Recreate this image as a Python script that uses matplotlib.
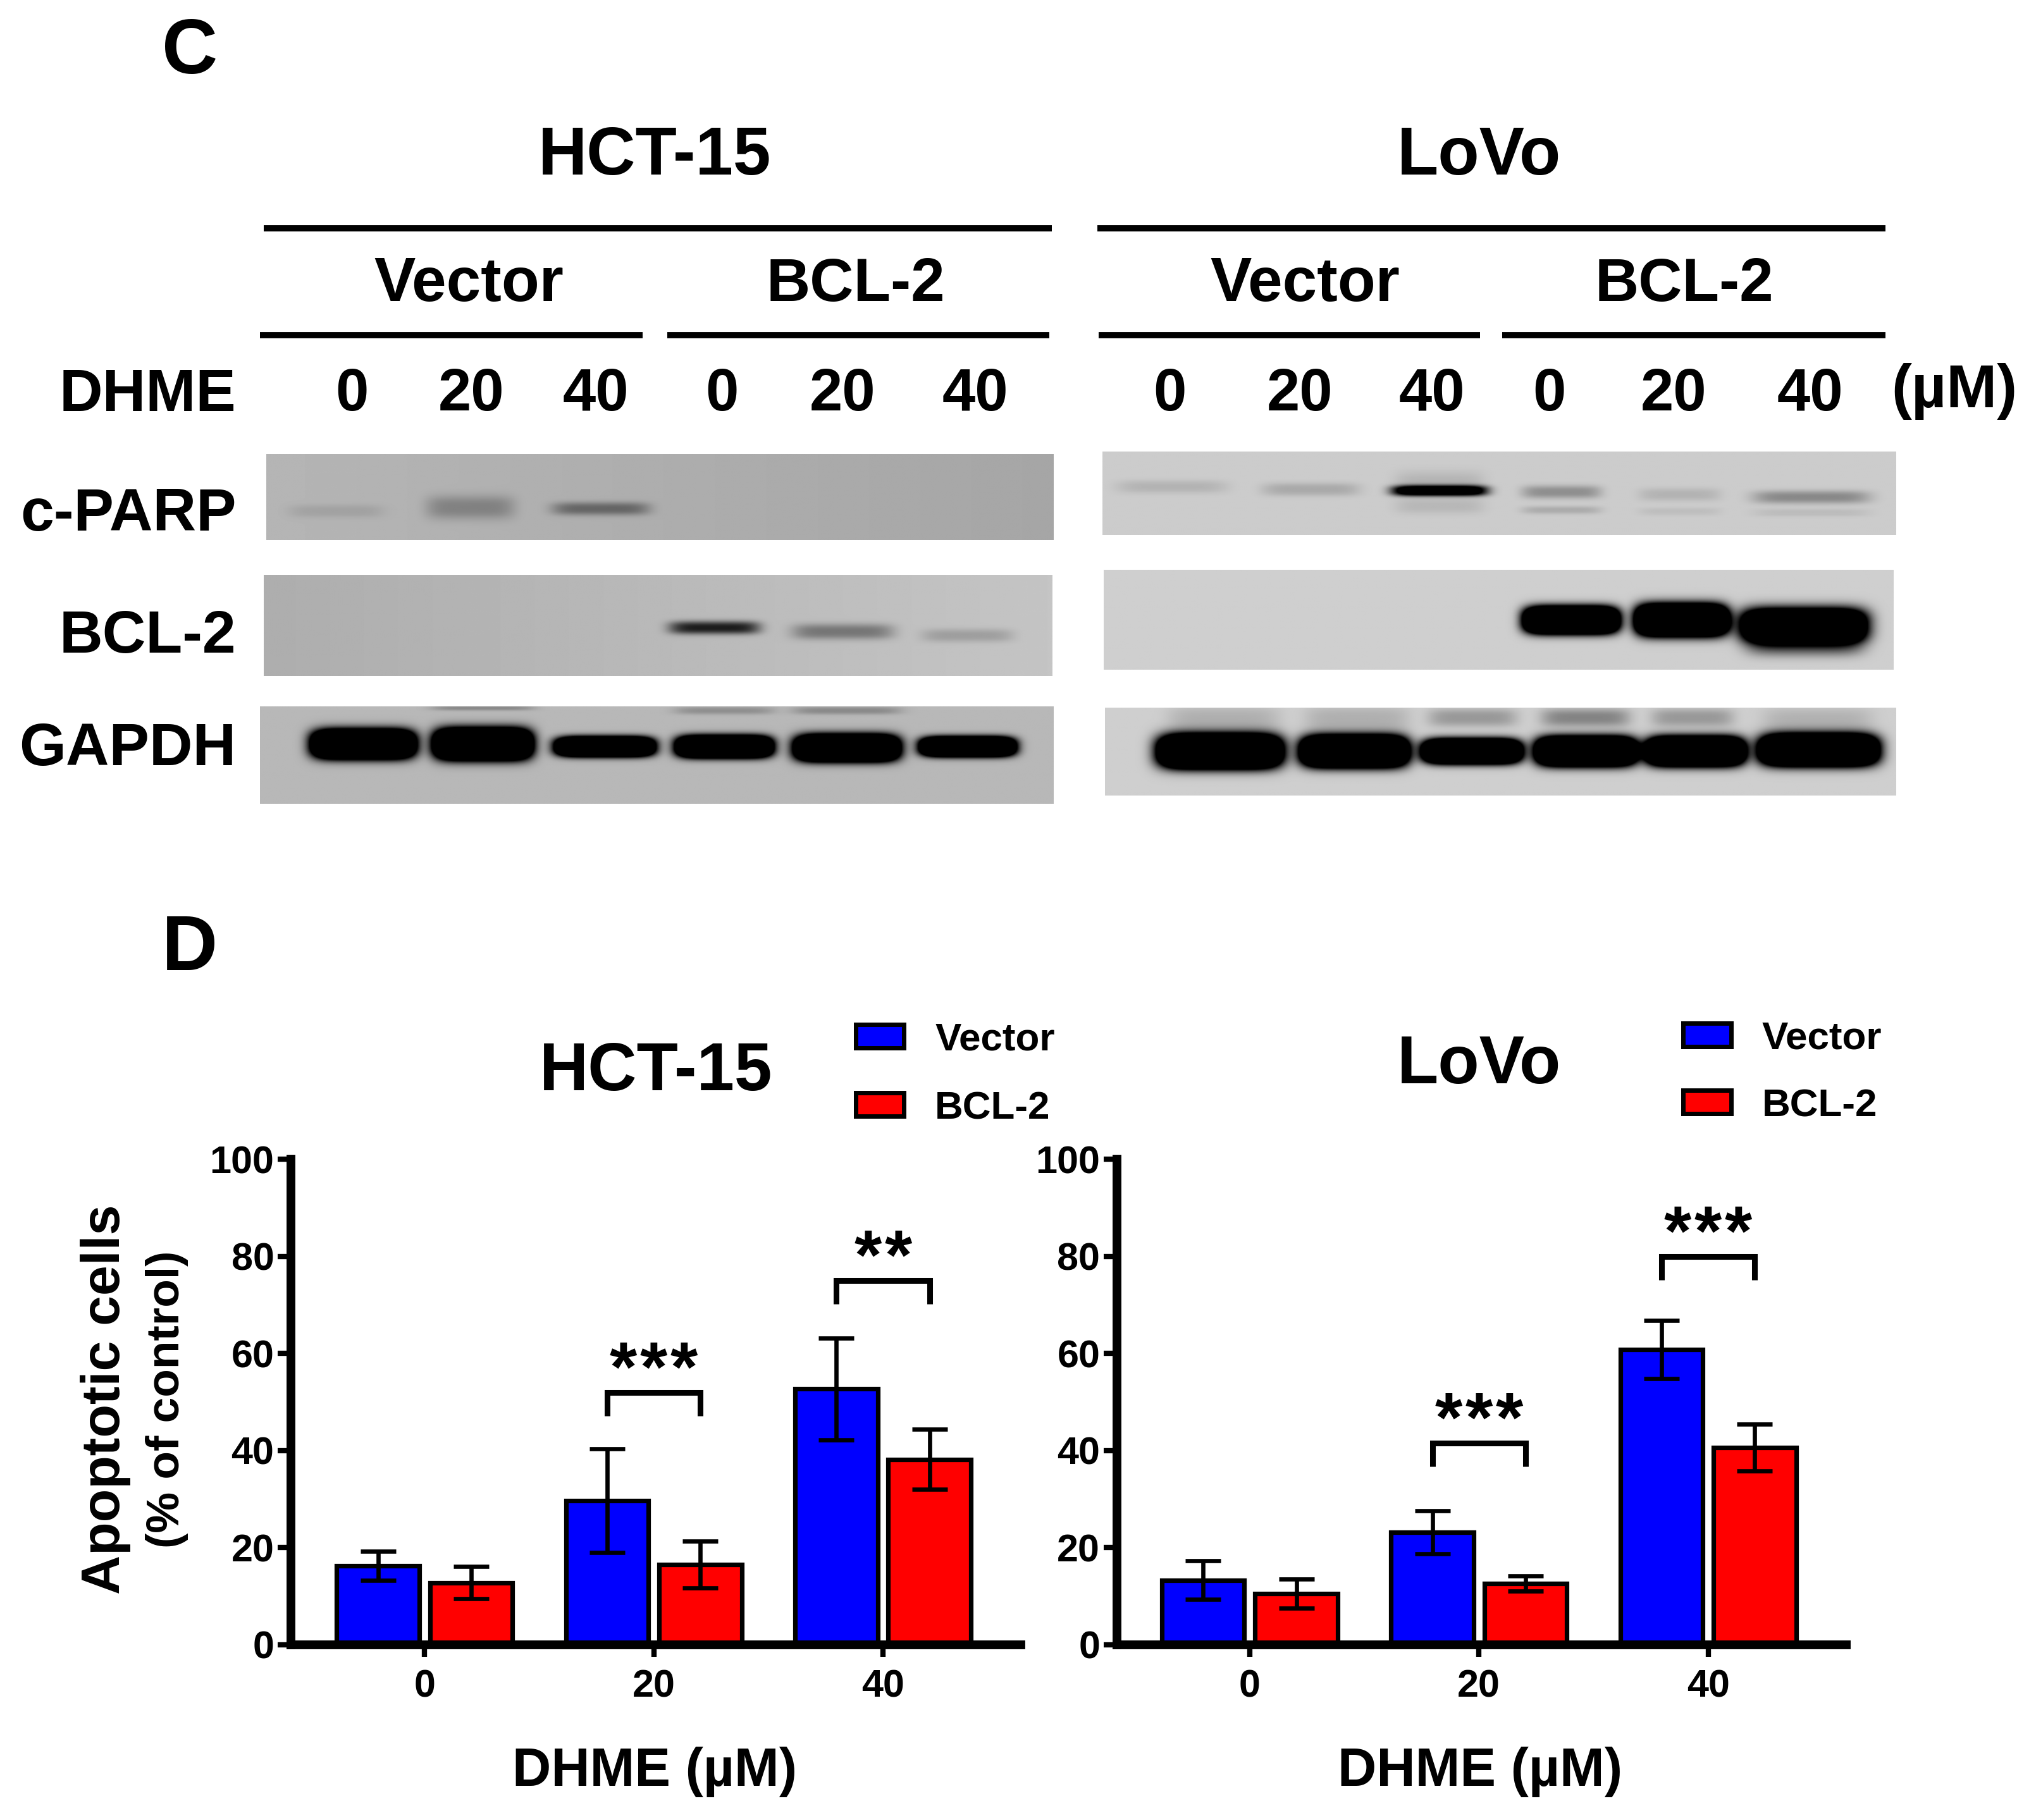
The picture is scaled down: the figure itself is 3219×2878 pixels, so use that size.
import numpy as np
import matplotlib
matplotlib.use("Agg")
import matplotlib.pyplot as plt
from matplotlib.patches import Rectangle

plt.rcParams['font.family'] = ['Liberation Sans', 'DejaVu Sans']
plt.rcParams['font.weight'] = 'bold'

W, H = 3219, 2878
TW, TH = 1568, 1402
S = W / TW

# ---------- chart data ----------
doses = ['0', '20', '40']
y_ticks = [0, 20, 40, 60, 80, 100]
series = ['Vector', 'BCL-2']
hct_vector = [16.3, 29.7, 52.7]
hct_vector_err = [3.0, 10.7, 10.5]
hct_bcl2 = [12.8, 16.5, 38.2]
hct_bcl2_err = [3.3, 4.8, 6.2]
lovo_vector = [13.3, 23.2, 60.8]
lovo_vector_err = [4.0, 4.4, 6.0]
lovo_bcl2 = [10.5, 12.6, 40.6]
lovo_bcl2_err = [3.0, 1.6, 4.8]
hct_sig = [(1, 52.0, 3), (2, 75.0, 2)]
lovo_sig = [(1, 41.5, 3), (2, 80.0, 3)]

# ---------- blot data: (x0, x1, yc, half height, darkness) in panel units ----------
hct_parp = [(222, 295, 394, 5, .10), (328, 396, 391, 9, .27), (425, 500, 392, 5, .42)]
hct_bcl = [(515, 585, 484, 5, .85), (610, 688, 487, 6, .38), (710, 780, 490, 5, .18)]
hct_gapdh = [(238, 321, 573, 12, 4), (332, 411, 573, 13, 4), (426, 505, 575, 8, 4),
             (519, 596, 575, 9, 4), (610, 694, 576, 11, 4), (707, 783, 575, 8, 4),
             (332, 411, 545, 2, .25), (519, 596, 547, 3, .22), (610, 694, 547, 3, .25)]
lovo_parp = [(860, 945, 375, 5, .12), (972, 1047, 377, 5, .17), (1072, 1145, 378, 4, 1.6),
             (1074, 1143, 372, 9, .12), (1074, 1143, 390, 6, .10),
             (1172, 1233, 379, 5, .30), (1172, 1233, 393, 3, .16),
             (1262, 1325, 381, 5, .12), (1262, 1325, 394, 3, .07),
             (1350, 1440, 383, 5, .33), (1350, 1440, 395, 3, .08)]
lovo_bcl = [(1172, 1248, 478, 11, 4), (1258, 1332, 478, 13, 4), (1340, 1438, 482, 13, 3),
            (1345, 1435, 497, 9, .55)]
lovo_gapdh = [(890, 989, 579, 14, 4), (1000, 1086, 579, 13, 4), (1094, 1173, 579, 10, 4),
              (1181, 1262, 579, 12, 4), (1266, 1345, 579, 12, 4), (1353, 1448, 578, 13, 4),
              (900, 985, 554, 10, .15), (1005, 1085, 554, 10, .15), (1100, 1168, 553, 7, .26),
              (1187, 1255, 553, 7, .36), (1272, 1335, 553, 7, .26), (1358, 1442, 555, 10, .14)]

blots = [
    (205, 811, 350, 416, (.71, .65), hct_parp),
    (203, 810, 443, 521, (.68, .77), hct_bcl),
    (200, 811, 544, 619, (.72, .72), hct_gapdh),
    (849, 1460, 348, 412, (.80, .80), lovo_parp),
    (850, 1458, 439, 516, (.81, .81), lovo_bcl),
    (851, 1460, 545, 613, (.81, .81), lovo_gapdh),
]

fig = plt.figure(figsize=(W / 100, H / 100), dpi=100, facecolor='white')
ov = fig.add_axes([0, 0, 1, 1], zorder=5)
ov.set_xlim(0, TW)
ov.set_ylim(TH, 0)
ov.axis('off')
ov.patch.set_alpha(0)


def T(x, yc, s, px, ha='center', rot=0):
    if rot == 0:
        ov.text(x, yc - 1 + 0.358 * px / S, s, fontsize=px * .72, ha=ha, va='baseline',
                fontweight='bold', color='black')
    else:
        ov.text(x + 0.358 * px / S, yc, s, fontsize=px * .72, ha='center', va='baseline',
                rotation=90, rotation_mode='anchor', fontweight='bold', color='black')


def L(x0, x1, y, lw=3.6):
    ov.plot([x0, x1], [y, y], color='black', lw=lw * S * .72, solid_capstyle='butt')


# ---------- blots ----------
for x0, x1, y0, y1, bg, bands in blots:
    ax = fig.add_axes([x0 / TW, 1 - y1 / TH, (x1 - x0) / TW, (y1 - y0) / TH])
    n_x, n_y = int((x1 - x0) * 2), int((y1 - y0) * 2)
    xs = np.linspace(x0, x1, n_x)
    ys = np.linspace(y0, y1, n_y)
    X, Y = np.meshgrid(xs, ys)
    base = bg[0] + (bg[1] - bg[0]) * (X - x0) / (x1 - x0)
    dark = np.zeros_like(X)
    for a, b, yc, hh, d in bands:
        cx, hw = (a + b) / 2, (b - a) / 2
        if d >= 3:
            hw /= np.log(d) ** (1 / 6)
            hh /= np.log(d) ** (1 / 2.6)
        dark += d * np.exp(-np.abs((X - cx) / hw) ** 6) * np.exp(-np.abs((Y - yc) / hh) ** 2.6)
    img = base * (1 - np.clip(dark, 0, 1))
    ax.imshow(img, cmap='gray', vmin=0, vmax=1, aspect='auto', interpolation='bilinear')
    ax.axis('off')

# ---------- panel C text ----------
T(146, 36, 'C', 122)
T(504, 117, 'HCT-15', 107)
T(1139, 117, 'LoVo', 107)
L(203, 810, 176, 4.8)
L(845, 1452, 176, 4.8)
for x, s, px in [(361, 'Vector', 98), (659, 'BCL-2', 96), (1005, 'Vector', 98), (1297, 'BCL-2', 96)]:
    T(x, 216, s, px)
for a, b in [(200, 495), (514, 808), (846, 1140), (1157, 1452)]:
    L(a, b, 258, 4.8)
T(182, 301, 'DHME', 95, ha='right')
lane_x = [271, 363, 459, 556, 649, 751, 901, 1001, 1103, 1193, 1289, 1394]
for x, s in zip(lane_x, doses * 4):
    T(x, 301, s, 94)
T(1505, 298, '(µM)', 96)
T(182, 393, 'c-PARP', 95, ha='right')
T(182, 487, 'BCL-2', 95, ha='right')
T(182, 574, 'GAPDH', 95, ha='right')

# ---------- panel D ----------
T(146, 727, 'D', 122)
T(505, 822, 'HCT-15', 107)
T(1139, 817, 'LoVo', 107)
T(504, 1362, 'DHME (µM)', 85)
T(1140, 1362, 'DHME (µM)', 85)
T(77, 1078, 'Apoptotic cells', 86, rot=90)
T(125, 1078, '(% of control)', 73, rot=90)

for px0, yr in [(659, (798, 851)), (1296, (797, 849))]:
    for y, col, name in zip(yr, ['#0000FF', '#FF0000'], series):
        ov.add_patch(Rectangle((px0, y - 9), 37, 18, facecolor=col, edgecolor='black',
                               lw=3.4 * S * .72))
        T(px0 + 61, y + 1, name, 62, ha='left')

Y0, Y1 = 1267, 893
UNIT = 176.5
PITCH = 0.133
panels = [
    (224, 786, 327, hct_vector, hct_vector_err, hct_bcl2, hct_bcl2_err, hct_sig),
    (860, 1422, 962.5, lovo_vector, lovo_vector_err, lovo_bcl2, lovo_bcl2_err, lovo_sig),
]
for xl, xr, c0, vec, vec_e, bcl, bcl_e, sig in panels:
    ax = fig.add_axes([xl / TW, 1 - Y0 / TH, (xr - xl) / TW, (Y0 - Y1) / TH])
    ax.patch.set_alpha(0)
    pos = np.arange(len(doses))
    eb = dict(ecolor='black', elinewidth=4.8, capsize=20, capthick=4.8, zorder=4)
    ax.bar(pos - .2034, vec, .36, color='#0000FF', edgecolor='black', linewidth=5.2,
           yerr=vec_e, error_kw=eb, zorder=3)
    ax.bar(pos + .2034, bcl, .36, color='#FF0000', edgecolor='black', linewidth=5.2,
           yerr=bcl_e, error_kw=eb, zorder=3)
    ax.set_xlim((xl - c0) / UNIT, (xr - c0) / UNIT)
    ax.set_ylim(0, 100)
    ax.set_xticks(pos, doses)
    ax.set_yticks(y_ticks)
    for sp in ['top', 'right']:
        ax.spines[sp].set_visible(False)
    for sp in ['left', 'bottom']:
        ax.spines[sp].set_linewidth(10)
        ax.spines[sp].set_zorder(6)
    ax.spines['left'].set_capstyle('projecting')
    ax.tick_params(axis='y', length=15, width=6, pad=4, labelsize=44)
    ax.tick_params(axis='x', length=14, width=6, pad=14, labelsize=44)
    for lab in ax.get_xticklabels() + ax.get_yticklabels():
        lab.set_fontweight('bold')
    for i, top, n in sig:
        ax.plot([i - .2034, i - .2034, i + .2034, i + .2034],
                [top - 4.8, top, top, top - 4.8], color='black', lw=6.5,
                solid_joinstyle='miter', solid_capstyle='butt', clip_on=False, zorder=5)
        for k in range(n):
            ax.text(i + (k - (n - 1) / 2) * PITCH, top - 2.7, '*', ha='center', va='bottom',
                    fontsize=80, fontweight='bold', color='black', clip_on=False)

fig.savefig('out.png', dpi=100, facecolor='white')
